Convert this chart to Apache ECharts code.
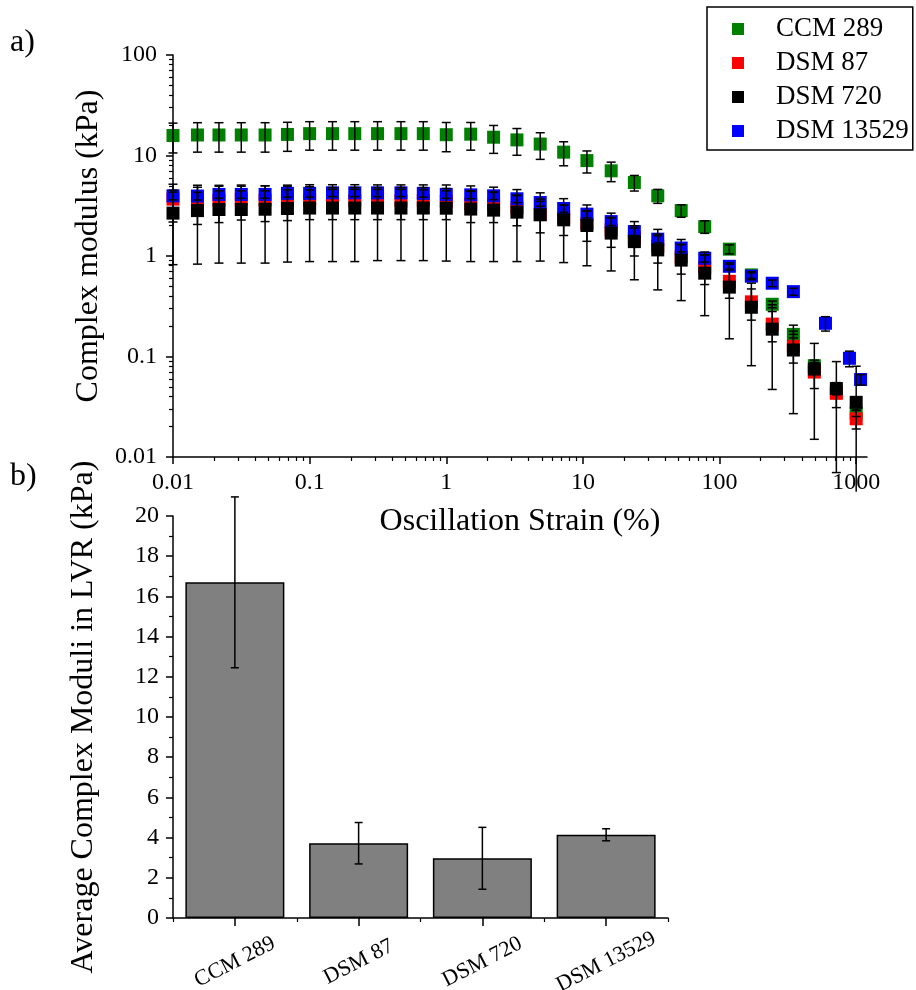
<!DOCTYPE html>
<html>
<head>
<meta charset="utf-8">
<script src="https://cdn.jsdelivr.net/npm/echarts@6/dist/echarts.min.js"></script>
<style>
  html, body { margin: 0; padding: 0; background: #fff; }
  #chart { width: 916px; height: 990px; }
</style>
</head>
<body>
<div id="chart"></div>
<script>
// ---- Panel a: amplitude sweep, complex modulus vs oscillation strain ----
// Strain (%) of each sweep point
const strain = [0.01, 0.0151, 0.0217, 0.0316, 0.0472, 0.0688, 0.1, 0.147, 0.214, 0.314, 0.466, 0.679,
  1, 1.51, 2.22, 3.29, 4.87, 7.23, 10.7, 16.1, 23.8, 35.3, 52.4, 77.9, 118, 171, 243, 347, 494, 716, 1000];
// DSM 13529 reached slightly different strains over its last three points
const strainDSM13529 = [0.01, 0.0151, 0.0217, 0.0316, 0.0472, 0.0688, 0.1, 0.147, 0.214, 0.314, 0.466, 0.679,
  1, 1.51, 2.22, 3.29, 4.87, 7.23, 10.7, 16.1, 23.8, 35.3, 52.4, 77.9, 118, 171, 243, 347, 596, 893, 1077];

// Mean complex modulus (kPa) and standard deviation per strain
const ccm289 = [15.8, 16.0, 16.0, 16.0, 16.0, 16.2, 16.5, 16.5, 16.5, 16.5, 16.5, 16.5,
  16.1, 16.3, 15.2, 14.3, 13.0, 10.8, 8.9, 7.04, 5.38, 3.97, 2.83, 1.96, 1.17, 0.648, 0.331, 0.166, 0.081, 0.0446, 0.0273];
const ccm289Sd = [5.2, 5.2, 5.2, 5.2, 5.2, 5.2, 5.2, 5.2, 5.2, 5.2, 5.2, 5.2,
  5.2, 5.0, 4.7, 4.25, 3.85, 2.9, 2.2, 1.55, 0.95, 0.63, 0.4, 0.28, 0.12, 0.05, 0.025, 0.013, 0.006, 0.003, 0.002];

const dsm87 = [3.68, 3.56, 3.6, 3.68, 3.6, 3.6, 3.6, 3.55, 3.55, 3.55, 3.55, 3.55,
  3.5, 3.3, 3.25, 3.0, 2.6, 2.4, 2.1, 1.82, 1.5, 1.25, 0.98, 0.77, 0.56, 0.35, 0.21, 0.126, 0.07, 0.043, 0.024];
const dsm87Sd = [1.5, 1.5, 1.45, 1.4, 1.4, 1.35, 1.3, 1.25, 1.25, 1.25, 1.25, 1.25,
  1.2, 1.15, 1.1, 1.0, 0.9, 0.8, 0.7, 0.6, 0.5, 0.4, 0.32, 0.25, 0.18, 0.12, 0.07, 0.04, 0.022, 0.012, 0.005];

const dsm720 = [2.67, 2.83, 2.9, 2.9, 2.92, 2.97, 3.0, 3.0, 3.0, 3.0, 3.0, 3.0,
  2.99, 2.93, 2.86, 2.73, 2.57, 2.29, 2.01, 1.69, 1.39, 1.15, 0.91, 0.675, 0.49, 0.309, 0.187, 0.116, 0.075, 0.048, 0.035];
const dsm720Sd = [1.85, 2.0, 2.05, 2.05, 2.07, 2.1, 2.12, 2.12, 2.12, 2.1, 2.1, 2.1,
  2.1, 2.05, 1.98, 1.85, 1.68, 1.43, 1.21, 0.98, 0.81, 0.69, 0.55, 0.42, 0.34, 0.228, 0.14, 0.089, 0.06, 0.041, 0.045];

const dsm13529 = [3.97, 3.95, 4.1, 4.1, 4.1, 4.2, 4.2, 4.25, 4.25, 4.25, 4.25, 4.2,
  4.1, 4.06, 3.97, 3.71, 3.41, 2.97, 2.61, 2.2, 1.75, 1.47, 1.2, 0.95, 0.79, 0.63, 0.536, 0.442, 0.214, 0.096, 0.059];
const dsm13529Sd = [0.35, 0.35, 0.35, 0.35, 0.35, 0.35, 0.35, 0.35, 0.35, 0.35, 0.35, 0.35,
  0.35, 0.34, 0.33, 0.31, 0.28, 0.25, 0.22, 0.19, 0.15, 0.12, 0.1, 0.08, 0.065, 0.05, 0.04, 0.035, 0.035, 0.017, 0.007];

const xTickValues = [0.01, 0.1, 1, 10, 100, 1000];
const xTickLabels = ['0.01', '0.1', '1', '10', '100', '1000'];
const yTickValues = [0.01, 0.1, 1, 10, 100];
const yTickLabels = ['0.01', '0.1', '1', '10', '100'];

// ---- Panel b: average complex modulus in the linear viscoelastic region ----
const strainNames = ['CCM 289', 'DSM 87', 'DSM 720', 'DSM 13529'];
const lvrMean = [16.7, 3.72, 2.97, 4.14];
const lvrSd = [4.25, 1.03, 1.54, 0.30];

// ------------------------------------------------------------------------
const FONT = "'Liberation Serif', 'Times New Roman', serif";
const INK = '#000';
const LOG_FLOOR = 0.0045;   // lower whiskers that fall to or below zero stop here

function minorLogTicks(lo, hi) {
  const out = [];
  for (let d = lo; d < hi; d++) {
    for (let m = 2; m <= 9; m++) out.push(+(m * Math.pow(10, d)).toPrecision(3));
  }
  return out;
}
function labelFor(values, labels) {
  return function (v) {
    for (let i = 0; i < values.length; i++) {
      if (Math.abs(Math.log10(v) - Math.log10(values[i])) < 1e-6) return labels[i];
    }
    return '';
  };
}
function pairs(xs, ys) { return ys.map((y, i) => [xs[i], y]); }
function whiskers(xs, mean, sd) {
  return mean.map((m, i) => {
    const lo = m - sd[i];
    return lo > LOG_FLOOR ? [xs[i], lo, m + sd[i], 1] : [xs[i], LOG_FLOOR, m + sd[i], 0];
  });
}
function errorBar(capHalf) {
  return function (params, api) {
    const x = api.value(0);
    const top = api.coord([x, api.value(2)]);
    const bot = api.coord([x, api.value(1)]);
    const style = { stroke: INK, lineWidth: 1.5 };
    const kids = [
      { type: 'line', shape: { x1: top[0], y1: top[1], x2: bot[0], y2: bot[1] }, style },
      { type: 'line', shape: { x1: top[0] - capHalf, y1: top[1], x2: top[0] + capHalf, y2: top[1] }, style }
    ];
    if (api.value(3)) {
      kids.push({ type: 'line', shape: { x1: bot[0] - capHalf, y1: bot[1], x2: bot[0] + capHalf, y2: bot[1] }, style });
    }
    return { type: 'group', children: kids };
  };
}

const groups = [
  { name: 'CCM 289', color: '#008000', xs: strain, mean: ccm289, sd: ccm289Sd },
  { name: 'DSM 87', color: '#ff0000', xs: strain, mean: dsm87, sd: dsm87Sd },
  { name: 'DSM 13529', color: '#0000ff', xs: strainDSM13529, mean: dsm13529, sd: dsm13529Sd },
  { name: 'DSM 720', color: '#000000', xs: strain, mean: dsm720, sd: dsm720Sd }
];

const axisLine = { show: true, lineStyle: { color: INK, width: 1.5 } };
const tickLabel = { color: INK, fontFamily: FONT, fontSize: 24 };
const nameStyle = { color: INK, fontFamily: FONT, fontSize: 32 };

const series = [];
groups.forEach(g => {
  series.push({
    name: g.name, type: 'scatter', xAxisIndex: 0, yAxisIndex: 0,
    data: pairs(g.xs, g.mean), symbol: 'rect', symbolSize: 13, clip: false,
    itemStyle: { color: g.color, opacity: 1 }, z: 2
  });
});
groups.forEach(g => {
  series.push({
    name: g.name + ' SD', type: 'custom', xAxisIndex: 0, yAxisIndex: 0,
    data: whiskers(g.xs, g.mean, g.sd), renderItem: errorBar(4.5), clip: false,
    encode: { x: 0, y: [1, 2] }, z: 3, silent: true
  });
});
series.push({
  name: 'Average', type: 'bar', xAxisIndex: 2, yAxisIndex: 2, data: lvrMean, barWidth: '80%',
  itemStyle: { color: '#808080', borderColor: INK, borderWidth: 1.5 }
});
series.push({
  name: 'Average SD', type: 'custom', xAxisIndex: 2, yAxisIndex: 2,
  data: lvrMean.map((m, i) => [i, m - lvrSd[i], m + lvrSd[i], 1]),
  renderItem: errorBar(4), clip: false, encode: { x: 0, y: [1, 2] }, z: 3, silent: true
});

const option = {
  animation: false,
  backgroundColor: '#fff',
  title: [
    { text: 'a)', left: 10, top: 27, padding: 0, textStyle: { color: INK, fontFamily: FONT, fontSize: 32, fontWeight: 'normal' } },
    { text: 'b)', left: 10, top: 461, padding: 0, textStyle: { color: INK, fontFamily: FONT, fontSize: 32, fontWeight: 'normal' } }
  ],
  legend: {
    data: ['CCM 289', 'DSM 87', 'DSM 720', 'DSM 13529'],
    orient: 'vertical', left: 707, top: 7,
    icon: 'rect', itemWidth: 12, itemHeight: 12, itemGap: 4,
    padding: [7, 4, 4, 25], borderColor: INK, borderWidth: 1.5, backgroundColor: '#fff',
    selectedMode: false,
    textStyle: { color: INK, fontFamily: FONT, fontSize: 27, lineHeight: 30, padding: [0, 0, 0, 27] }
  },
  grid: [
    { left: 173, top: 55, width: 694, height: 402, outerBoundsMode: 'none', containLabel: false },
    { left: 173, top: 516, width: 495, height: 402, outerBoundsMode: 'none', containLabel: false }
  ],
  xAxis: [
    {
      type: 'log', gridIndex: 0, position: 'bottom', min: 0.01, max: 1200, logBase: 10,
      axisLine, splitLine: { show: false },
      axisTick: { show: true, length: 7, lineStyle: { color: INK, width: 1.5 }, customValues: xTickValues },
      axisLabel: Object.assign({ margin: 14, customValues: xTickValues, formatter: labelFor(xTickValues, xTickLabels) }, tickLabel),
      name: 'Oscillation Strain (%)', nameLocation: 'middle', nameGap: 49, nameTextStyle: nameStyle
    },
    {
      type: 'log', gridIndex: 0, position: 'bottom', min: 0.01, max: 1200, logBase: 10,
      axisLine: { show: false }, splitLine: { show: false }, axisLabel: { show: false },
      axisTick: { show: true, length: 4, lineStyle: { color: INK, width: 1.2 }, customValues: minorLogTicks(-2, 3) }
    },
    {
      type: 'category', gridIndex: 1, position: 'bottom', data: strainNames,
      axisLine, splitLine: { show: false },
      axisTick: { show: true, alignWithLabel: true, length: 8, lineStyle: { color: INK, width: 1.5 } },
      axisLabel: Object.assign({}, tickLabel, {
        fontSize: 22, rotate: 27, align: 'center', verticalAlign: 'middle', margin: 44, interval: 0
      })
    },
    {
      type: 'category', gridIndex: 1, position: 'bottom', data: strainNames,
      axisLine: { show: false }, splitLine: { show: false }, axisLabel: { show: false },
      axisTick: { show: true, length: 4, lineStyle: { color: INK, width: 1.2 } }
    }
  ],
  yAxis: [
    {
      type: 'log', gridIndex: 0, position: 'left', min: 0.01, max: 100, logBase: 10,
      axisLine, splitLine: { show: false },
      axisTick: { show: true, length: 7, lineStyle: { color: INK, width: 1.5 }, customValues: yTickValues },
      axisLabel: Object.assign({ margin: 16, customValues: yTickValues, formatter: labelFor(yTickValues, yTickLabels) }, tickLabel),
      name: 'Complex modulus (kPa)', nameLocation: 'middle', nameGap: 68,
      nameTextStyle: Object.assign({ padding: [0, 0, 0, 20] }, nameStyle)
    },
    {
      type: 'log', gridIndex: 0, position: 'left', min: 0.01, max: 100, logBase: 10,
      axisLine: { show: false }, splitLine: { show: false }, axisLabel: { show: false },
      axisTick: { show: true, length: 4, lineStyle: { color: INK, width: 1.2 }, customValues: minorLogTicks(-2, 2) }
    },
    {
      type: 'value', gridIndex: 1, position: 'left', min: 0, max: 20, interval: 2,
      axisLine, splitLine: { show: false },
      axisTick: { show: true, length: 7, lineStyle: { color: INK, width: 1.5 } },
      minorTick: { show: true, splitNumber: 2, length: 4, lineStyle: { color: INK, width: 1.2 } },
      axisLabel: Object.assign({ margin: 14 }, tickLabel),
      name: 'Average Complex Moduli in LVR (kPa)', nameLocation: 'middle', nameGap: 73, nameTextStyle: nameStyle
    }
  ],
  series
};

const chart = echarts.init(document.getElementById('chart'), null, { renderer: 'canvas' });
chart.setOption(option);
</script>
</body>
</html>
